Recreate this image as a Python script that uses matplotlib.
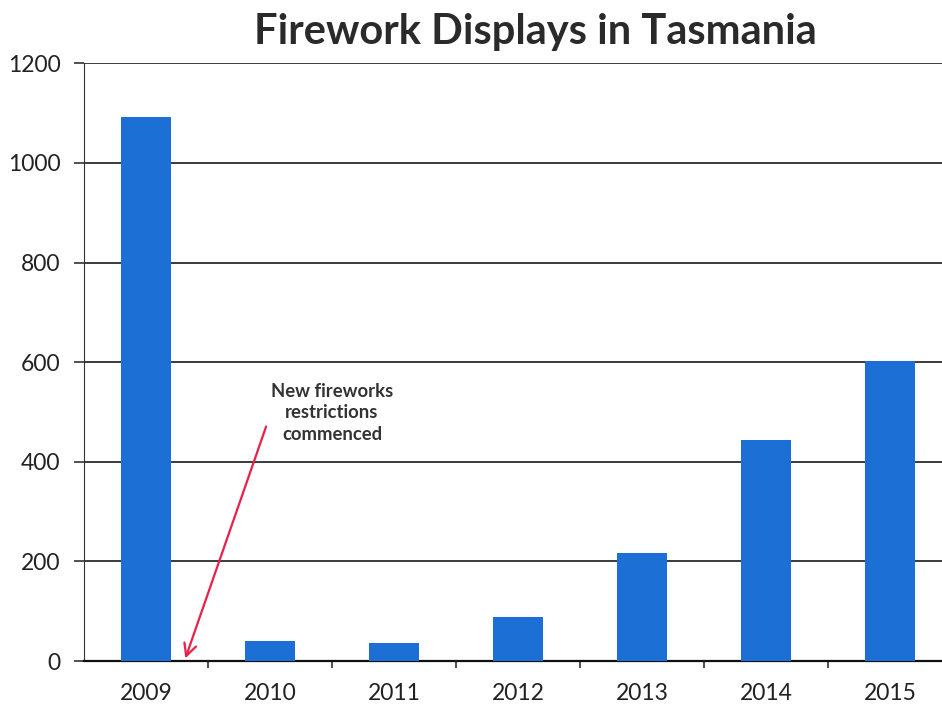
import matplotlib.pyplot as plt
import numpy as np

years = ['2009', '2010', '2011', '2012', '2013', '2014', '2015']
displays = [1092, 40, 37, 89, 216, 444, 602]

plt.rcParams['font.family'] = ['Lato', 'DejaVu Sans']

fig = plt.figure(figsize=(9.42, 7.06), dpi=100)
ax = fig.add_axes([0.0892, 0.0637, 0.9108, 0.8466])

x = np.arange(len(years))
ax.bar(x, displays, width=0.4, color='#1b6fd5', zorder=3)

ax.set_ylim(0, 1200)
ax.set_xlim(-0.5, 6.42)
ax.set_yticks(np.arange(0, 1201, 200))
ax.yaxis.grid(True, color='#1a1a1a', linewidth=1.2, zorder=1)
ax.set_xticks(x)
ax.set_xticklabels(years)
ax.set_xticks(x[:-1] + 0.5, minor=True)

for s in ['top', 'right']:
    ax.spines[s].set_visible(False)
ax.spines['left'].set_color('#333333')
ax.spines['bottom'].set_color('#111111')
ax.spines['bottom'].set_linewidth(1.6)

ax.tick_params(axis='y', length=7, width=1.2, color='#333333', pad=10, labelsize=16.5, labelcolor='#222222')
ax.tick_params(axis='x', which='major', length=0, pad=16, labelsize=16.5, labelcolor='#222222')
ax.tick_params(axis='x', which='minor', length=5, width=1.2, color='#333333')

ax.annotate('New fireworks\nrestrictions\ncommenced', xy=(0.31, 0), xytext=(1.5, 498),
            ha='center', va='center', fontsize=13.3, fontweight='bold', color='#333333',
            linespacing=1.3)
ax.annotate('', xy=(0.31, 0), xytext=(0.976, 476),
            arrowprops=dict(arrowstyle='->', color='#e8204a', lw=1.6, mutation_scale=22))

fig.text(0.568, 0.955, 'Firework Displays in Tasmania', ha='center', va='center',
         fontsize=30, fontweight='bold', color='#2a2a2a')

plt.savefig('out.png')
